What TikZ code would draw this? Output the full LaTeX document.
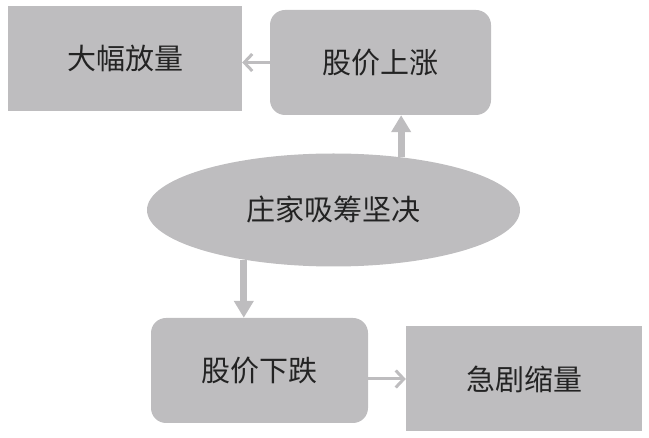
\documentclass[tikz,border=0pt]{standalone}
\usepackage{fontspec}
\newfontfamily\cjk{Noto Sans CJK SC}
\usetikzlibrary{shapes,arrows.meta}
\definecolor{boxgray}{RGB}{190,189,191}
\definecolor{txtgray}{RGB}{35,35,35}

\begin{document}
\begin{tikzpicture}[x=1pt,y=-1pt,
	sq/.style={fill=boxgray,inner sep=0pt,minimum height=105pt,text=txtgray,font=\cjk\fontsize{29}{33}\selectfont},
	rnd/.style={sq,rounded corners=15pt},
	thinarr/.style={draw=boxgray,line width=3pt,-{Straight Barb[length=8pt,width=17pt]}},
	fatarr/.style={draw=boxgray,line width=7pt,-{Triangle[length=17pt,width=19pt]}}]
\useasboundingbox (0,0) rectangle (649,438);
\foreach \n/\x/\w/\s/\l in{
	fang/{(125,58.5)}/234/sq/{大幅放量},
	up/{(380.5,62.5)}/221/rnd/{股价上涨},
	down/{(259.5,370.5)}/217/rnd/{股价下跌},
	suo/{(524,379)}/236/sq/{急剧缩量}
}
{
	\node[\s,minimum width=\w pt] (\n) at \x {\l};
}
\node[ellipse,fill=boxgray,inner sep=0pt,minimum width=373pt,minimum height=113pt,text=txtgray,font=\cjk\fontsize{29}{33}\selectfont] (zhuang) at (333.5,210) {庄家吸筹坚决};
\draw[thinarr] (up.west) -- (up.west -| fang.east);
\draw[thinarr] (suo.west -| down.east) -- (suo.west);
\draw[fatarr] (zhuang.38) -- (zhuang.38 |- up.south);
\draw[fatarr] (zhuang.209) -- (zhuang.209 |- down.north);
\end{tikzpicture}
\end{document}
